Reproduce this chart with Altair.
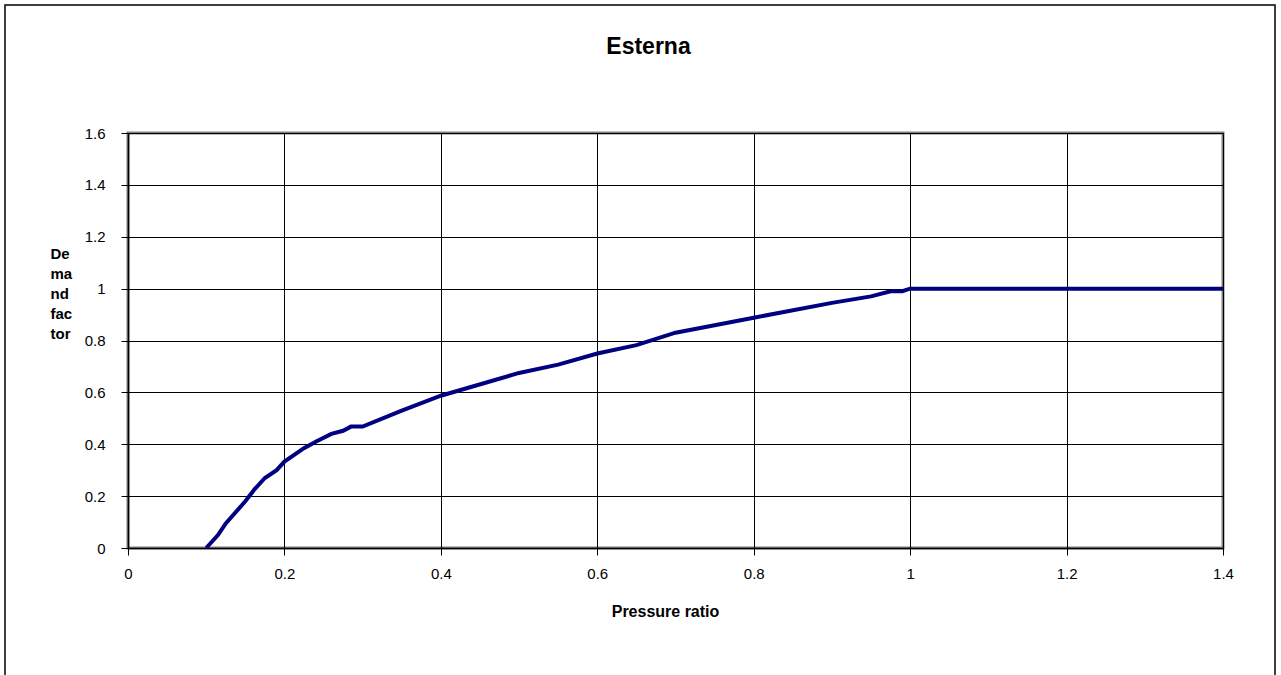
import altair as alt
import pandas as pd

# Demand factor curve vs. pressure ratio
pressure_ratio = [0.1, 0.115, 0.125, 0.15, 0.162, 0.175, 0.19, 0.2, 0.225, 0.24,
                  0.26, 0.275, 0.285, 0.3, 0.35, 0.4, 0.5, 0.55, 0.6, 0.65,
                  0.7, 0.8, 0.9, 0.95, 0.975, 0.99, 1.0, 1.1, 1.2, 1.3, 1.4]
demand_factor = [0.0, 0.05, 0.095, 0.18, 0.227, 0.27, 0.30, 0.333, 0.385, 0.41,
                 0.44, 0.452, 0.468, 0.468, 0.53, 0.587, 0.675, 0.707, 0.75, 0.782,
                 0.83, 0.888, 0.945, 0.97, 0.99, 0.99, 1.0, 1.0, 1.0, 1.0, 1.0]

x_ticks = [0, 0.2, 0.4, 0.6, 0.8, 1.0, 1.2, 1.4]
y_ticks = [0, 0.2, 0.4, 0.6, 0.8, 1.0, 1.2, 1.4, 1.6]

df = pd.DataFrame({"p": pressure_ratio, "d": demand_factor})

FONT = "Liberation Sans"

line = alt.Chart(df).mark_line(color="#000080", strokeWidth=4, clip=False).encode(
    x=alt.X(
        "p:Q",
        scale=alt.Scale(domain=[0, 1.4], nice=False, zero=True),
        axis=alt.Axis(
            values=x_ticks,
            title="Pressure ratio",
            titleFont=FONT, titleFontSize=16, titleFontWeight="bold", titleColor="black",
            titleBaseline="top", titleY=55, titleX=537,
            labelFont=FONT, labelFontSize=15, labelColor="black",
            labelPadding=11, labelFlush=False,
            tickSize=7, tickColor="black", tickWidth=1,
            domainColor="black", domainWidth=1.5,
            grid=True, gridColor="black", gridWidth=1, gridOpacity=1,
            format="~g",
        ),
    ),
    y=alt.Y(
        "d:Q",
        scale=alt.Scale(domain=[0, 1.6], nice=False),
        axis=alt.Axis(
            values=y_ticks,
            title=["De", "ma", "nd", "fac", "tor"],
            titleFont=FONT, titleFontSize=15, titleFontWeight="bold", titleColor="black",
            titleAngle=0, titleAlign="left", titleBaseline="top",
            titleX=-78, titleY=113, titleLineHeight=20,
            labelFont=FONT, labelFontSize=15, labelColor="black",
            labelPadding=16, labelFlush=False,
            tickSize=7, tickColor="black", tickWidth=1,
            domainColor="black", domainWidth=1.5,
            grid=True, gridColor="black", gridWidth=1, gridOpacity=1,
            format="~g",
        ),
    ),
)

# Outer frame around the whole figure
frame = alt.Chart(pd.DataFrame({"k": [0]})).mark_rect(
    fill=None, stroke="black", strokeWidth=1.5, clip=False
).encode(
    x=alt.value(-123), x2=alt.value(1147),
    y=alt.value(-128), y2=alt.value(560),
)

chart = alt.layer(frame, line).properties(
    width=1095,
    height=415,
    title=alt.TitleParams(
        "Esterna", font=FONT, fontSize=23, fontWeight="bold", color="black",
        anchor="middle", dx=-27, dy=59,
    ),
    padding={"left": 128, "top": 133, "right": 58, "bottom": 127},
    autosize=alt.AutoSizeParams(type="none"),
    background="white",
).configure_view(
    stroke="#808080", strokeWidth=3,
)

chart.save("out.html", embed_options={"renderer": "svg", "actions": False})
